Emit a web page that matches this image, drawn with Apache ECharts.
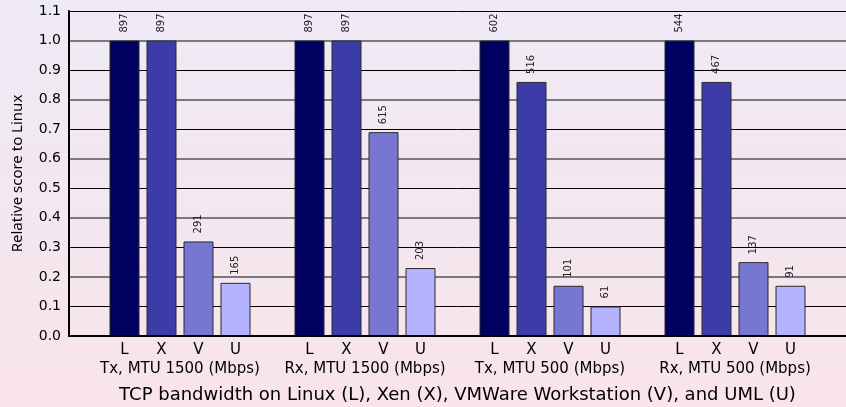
<!DOCTYPE html>
<html>
<head>
<meta charset="utf-8">
<script src="https://cdn.jsdelivr.net/npm/echarts@6/dist/echarts.min.js"></script>
<style>
html,body{margin:0;padding:0;}
#c{width:846px;height:407px;}
</style>
</head>
<body>
<div id="c"></div>
<script>
// ---- data ----
var groups = ['Tx, MTU 1500 (Mbps)', 'Rx, MTU 1500 (Mbps)', 'Tx, MTU 500 (Mbps)', 'Rx, MTU 500 (Mbps)'];
var systems = ['L', 'X', 'V', 'U'];
// relative score to Linux, per system, per group
var relL = [1.00, 1.00, 1.00, 1.00];
var relX = [1.00, 1.00, 0.86, 0.86];
var relV = [0.32, 0.69, 0.17, 0.25];
var relU = [0.18, 0.23, 0.10, 0.17];
// absolute bandwidth (Mbps) labels
var mbpsL = [897, 897, 602, 544];
var mbpsX = [897, 897, 516, 467];
var mbpsV = [291, 615, 101, 137];
var mbpsU = [165, 203, 61, 91];
var groupCenters = [3, 8, 13, 18];
var colors = ['#000060', '#3c3ca8', '#7777d2', '#b3b3ff'];

var rel = [relL, relX, relV, relU];
var mbps = [mbpsL, mbpsX, mbpsV, mbpsU];

// build slots: blank, L, X, V, U, blank, ...
var cats = [''];
var data = [{value: null}];
for (var g = 0; g < groups.length; g++) {
  for (var s = 0; s < systems.length; s++) {
    cats.push(systems[s]);
    data.push({
      value: rel[s][g],
      mbps: mbps[s][g],
      itemStyle: {color: colors[s]}
    });
  }
  cats.push('');
  data.push({value: null});
}

var chart = echarts.init(document.getElementById('c'));
var FONT = 'DejaVu Sans';
chart.setOption({
  animation: false,
  backgroundColor: {
    type: 'linear', x: 0, y: 0, x2: 0, y2: 1,
    colorStops: [{offset: 0, color: '#eeeaf6'}, {offset: 1, color: '#f9e4ea'}]
  },
  grid: {left: 69, right: 0, top: 11, bottom: 71, containLabel: false, outerBoundsMode: 'none'},
  xAxis: [{
    type: 'category',
    data: cats,
    boundaryGap: true,
    axisLine: {lineStyle: {color: '#000', width: 2}},
    axisTick: {show: false},
    axisLabel: {interval: 0, color: '#000', fontSize: 15, fontFamily: FONT, margin: 7},
    splitLine: {show: false},
    z: 10
  }, {
    type: 'value',
    min: 0, max: 21,
    position: 'bottom',
    axisLine: {show: false},
    axisTick: {show: false},
    splitLine: {show: false},
    axisLabel: {
      customValues: groupCenters,
      color: '#000', fontSize: 15, fontFamily: FONT, margin: 26,
      formatter: function (v) { return groups[groupCenters.indexOf(v)] || ''; }
    },
    name: 'TCP bandwidth on Linux (L), Xen (X), VMWare Workstation (V), and UML (U)',
    nameLocation: 'middle',
    nameGap: 50,
    nameTextStyle: {color: '#000', fontSize: 18, fontFamily: FONT}
  }],
  yAxis: [{
    type: 'value',
    position: 'left',
    min: 0, max: 1.1, interval: 0.1,
    axisLine: {show: false},
    axisTick: {show: false},
    axisLabel: {show: false},
    splitLine: {show: true, lineStyle: {color: ['#7a7a7a', 'rgba(0,0,0,0)'], width: 2}}
  }, {
    type: 'value',
    position: 'left',
    min: 0, max: 1.1, interval: 0.1,
    axisLine: {show: true, lineStyle: {color: '#000', width: 2}},
    axisTick: {show: false},
    axisLabel: {color: '#000', fontSize: 14, fontFamily: FONT, margin: 8,
      formatter: function (v) { return v.toFixed(1); }},
    splitLine: {show: true, lineStyle: {color: ['rgba(0,0,0,0)', '#000'], width: 1}},
    name: 'Relative score to Linux',
    nameLocation: 'middle',
    nameGap: 44,
    nameTextStyle: {color: '#000', fontSize: 15, fontFamily: 'Noto Sans'}
  }],
  series: [{
    type: 'bar',
    xAxisIndex: 0,
    yAxisIndex: 1,
    data: data,
    barWidth: 30,
    itemStyle: {borderColor: '#2a2a2a', borderWidth: 1},
    label: {
      show: true,
      position: 'top',
      rotate: 90,
      align: 'left',
      verticalAlign: 'middle',
      distance: 8,
      fontSize: 10,
      fontFamily: FONT,
      color: '#222',
      formatter: function (p) { return p.data.mbps != null ? String(p.data.mbps) : ''; }
    },
    z: 5
  }]
});
</script>
</body>
</html>
